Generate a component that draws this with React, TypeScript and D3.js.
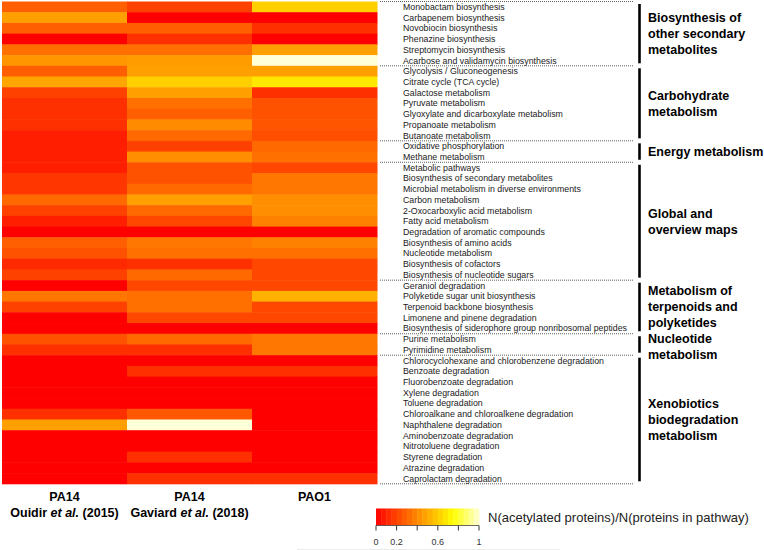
import React from "react";
import * as d3 from "d3";

const columnTop = ["PA14", "PA14", "PAO1"];
const columnAuthor = ["Ouidir", "Gaviard", ""];
const columnYear = ["(2015)", "(2018)", ""];

const pathways = [
  "Monobactam biosynthesis",
  "Carbapenem biosynthesis",
  "Novobiocin biosynthesis",
  "Phenazine biosynthesis",
  "Streptomycin biosynthesis",
  "Acarbose and validamycin biosynthesis",
  "Glycolysis / Gluconeogenesis",
  "Citrate cycle (TCA cycle)",
  "Galactose metabolism",
  "Pyruvate metabolism",
  "Glyoxylate and dicarboxylate metabolism",
  "Propanoate metabolism",
  "Butanoate metabolism",
  "Oxidative phosphorylation",
  "Methane metabolism",
  "Metabolic pathways",
  "Biosynthesis of secondary metabolites",
  "Microbial metabolism in diverse environments",
  "Carbon metabolism",
  "2-Oxocarboxylic acid metabolism",
  "Fatty acid metabolism",
  "Degradation of aromatic compounds",
  "Biosynthesis of amino acids",
  "Nucleotide metabolism",
  "Biosynthesis of cofactors",
  "Biosynthesis of nucleotide sugars",
  "Geraniol degradation",
  "Polyketide sugar unit biosynthesis",
  "Terpenoid backbone biosynthesis",
  "Limonene and pinene degradation",
  "Biosynthesis of siderophore group nonribosomal peptides",
  "Purine metabolism",
  "Pyrimidine metabolism",
  "Chlorocyclohexane and chlorobenzene degradation",
  "Benzoate degradation",
  "Fluorobenzoate degradation",
  "Xylene degradation",
  "Toluene degradation",
  "Chloroalkane and chloroalkene degradation",
  "Naphthalene degradation",
  "Aminobenzoate degradation",
  "Nitrotoluene degradation",
  "Styrene degradation",
  "Atrazine degradation",
  "Caprolactam degradation",
];

const valuesOuidir = [
  0.28, 0.47, 0.28, 0, 0.33, 0.44,
  0.28, 0.49, 0.19, 0.14, 0.14, 0.14, 0.09,
  0.09, 0.09,
  0.09, 0.16, 0.16, 0.31, 0.19, 0.09, 0, 0.28, 0.24, 0.12, 0.19,
  0, 0.35, 0.19, 0, 0,
  0.24, 0.14,
  0, 0, 0, 0, 0, 0.14, 0.47, 0, 0, 0, 0, 0,
];
const valuesGaviard = [
  0.19, 0, 0.28, 0.14, 0.33, 0.46,
  0.47, 0.61, 0.47, 0.33, 0.28, 0.41, 0.31,
  0.19, 0.42,
  0.24, 0.24, 0.31, 0.47, 0.31, 0.21, 0, 0.35, 0.33, 0.14, 0.31,
  0.21, 0.33, 0.33, 0.21, 0,
  0.31, 0.14,
  0, 0.14, 0, 0, 0, 0.26, 1, 0, 0, 0.14, 0, 0.14,
];
const valuesPAO1 = [
  0.61, 0, 0.14, 0, 0.47, 1,
  0.47, 0.68, 0.14, 0.24, 0.24, 0.25, 0.23,
  0.31, 0.33,
  0.21, 0.35, 0.35, 0.42, 0.42, 0.38, 0, 0.38, 0.33, 0.21, 0.21,
  0.21, 0.52, 0.21, 0.21, 0,
  0.35, 0.35,
  0, 0.14, 0, 0, 0, 0, 0, 0, 0, 0, 0, 0.14,
];

const groupLabels = [
  ["Biosynthesis of", "other secondary", "metabolites"],
  ["Carbohydrate", "metabolism"],
  ["Energy metabolism"],
  ["Global and", "overview maps"],
  ["Metabolism of", "terpenoids and", "polyketides"],
  ["Nucleotide", "metabolism"],
  ["Xenobiotics", "biodegradation", "metabolism"],
];
const groupSizes = [6, 7, 2, 11, 5, 2, 12];

const legendTicks = [0, 0.2, 0.4, 0.6, 0.8, 1];
const legendTickLabels = ["0", "0.2", "", "0.6", "", "1"];
const legendTitle = "N(acetylated proteins)/N(proteins in pathway)";

const W = 764;
const H = 550;

export default function App() {
  const series = [valuesOuidir, valuesGaviard, valuesPAO1];
  const x = d3.scaleBand<number>().domain([0, 1, 2]).range([2, 377]);
  const y = d3.scaleBand<number>().domain(d3.range(pathways.length)).range([1.5, 483.8]);
  const color = d3
    .scaleLinear<string>()
    .domain([0, 0.75, 1])
    .range(["#ff0000", "#ffff00", "#ffffd8"])
    .interpolate(d3.interpolateRgb);

  const groupStarts = groupSizes.map((_, i) => d3.sum(groupSizes.slice(0, i)));
  const boundaries = [0, ...groupSizes.map((_, i) => d3.sum(groupSizes.slice(0, i + 1)))];
  const rowEdge = (i: number) => (i >= pathways.length ? y(pathways.length - 1)! + y.bandwidth() : y(i)!);

  const labelX = 403;
  const dotX0 = 380;
  const dotX1 = 633;
  const bracketX = 639.5;
  const groupTextX = 648;
  const lineH = 16;

  // group label line positions, centred on each group then pushed apart to avoid collisions
  let prevLast = -Infinity;
  const groupLineY = groupSizes.map((s, g) => {
    const top = rowEdge(groupStarts[g]);
    const bottom = rowEdge(groupStarts[g] + s);
    const mid = (top + bottom) / 2;
    const n = groupLabels[g].length;
    let first = mid - ((n - 1) / 2) * lineH;
    if (first < prevLast + lineH) first = prevLast + lineH;
    const ys = groupLabels[g].map((_, k) => first + k * lineH);
    prevLast = ys[ys.length - 1];
    return ys;
  });

  const lx = d3.scaleLinear().domain([0, 1]).range([376, 479]);
  const legendY0 = 508.5;
  const legendY1 = 525.5;
  const steps = 20;

  const sans = "'Liberation Sans', Arial, sans-serif";

  return (
    <svg
      width={W}
      height={H}
      style={{ position: "absolute", left: 0, top: 0, background: "#fff" }}
      fontFamily={sans}
    >
      <rect x={0} y={0} width={W} height={H} fill="#fff" />
      {series.map((vals, c) =>
        vals.map((v, r) => (
          <rect
            key={`${c}-${r}`}
            x={x(c)}
            y={y(r)}
            width={x.bandwidth() + 0.5}
            height={y.bandwidth() + 0.5}
            fill={color(v)}
          />
        ))
      )}

      {pathways.map((p, r) => (
        <text
          key={p}
          x={labelX}
          y={y(r)! + y.bandwidth() / 2}
          dy="0.35em"
          fontSize={8.8}
          fill="#1a1a1a"
        >
          {p}
        </text>
      ))}

      {boundaries.map((b, i) => (
        <line
          key={`d${i}`}
          x1={dotX0}
          x2={dotX1}
          y1={rowEdge(b)}
          y2={rowEdge(b)}
          stroke="#333"
          strokeWidth={0.8}
          strokeDasharray="1,1"
        />
      ))}

      {groupSizes.map((s, g) => {
        const top = rowEdge(groupStarts[g]);
        const bottom = rowEdge(groupStarts[g] + s);
        const lines = groupLabels[g];
        return (
          <g key={`g${g}`}>
            <line
              x1={bracketX}
              x2={bracketX}
              y1={top + 2.5}
              y2={bottom - 2.5}
              stroke="#000"
              strokeWidth={2.6}
            />
            {lines.map((t, k) => (
              <text
                key={t + k}
                x={groupTextX}
                y={groupLineY[g][k]}
                dy="0.35em"
                fontSize={12.5}
                fontWeight="bold"
                fill="#000"
              >
                {t}
              </text>
            ))}
          </g>
        );
      })}

      {columnTop.map((t, c) => {
        const cx = x(c)! + x.bandwidth() / 2;
        return (
          <g key={`c${c}`}>
            <text x={cx} y={501} textAnchor="middle" fontSize={12.5} fontWeight="bold" fill="#000">
              {t}
            </text>
            {columnAuthor[c] && (
              <text x={cx} y={516.5} textAnchor="middle" fontSize={12.5} fontWeight="bold" fill="#000">
                {columnAuthor[c]} <tspan fontStyle="italic">et al.</tspan> {columnYear[c]}
              </text>
            )}
          </g>
        );
      })}

      {d3.range(steps).map((i) => (
        <rect
          key={`l${i}`}
          x={lx(i / steps)}
          y={legendY0}
          width={lx(1 / steps) - lx(0) + 0.4}
          height={legendY1 - legendY0}
          fill={color((i + 0.5) / steps)}
        />
      ))}
      <line x1={lx(0)} x2={lx(1)} y1={legendY1} y2={legendY1} stroke="#444" strokeWidth={0.8} />
      {legendTicks.map((t, i) => (
        <g key={`t${i}`}>
          <line x1={lx(t)} x2={lx(t)} y1={legendY1} y2={legendY1 + 5} stroke="#333" strokeWidth={1} />
          <text x={lx(t)} y={545} textAnchor="middle" fontSize={9} fill="#333">
            {legendTickLabels[i]}
          </text>
        </g>
      ))}
      <text x={488} y={517} dy="0.35em" fontSize={13} fill="#222">
        {legendTitle}
      </text>
      <line x1={297} x2={560} y1={549.5} y2={549.5} stroke="#ebebeb" strokeWidth={1} />
    </svg>
  );
}
